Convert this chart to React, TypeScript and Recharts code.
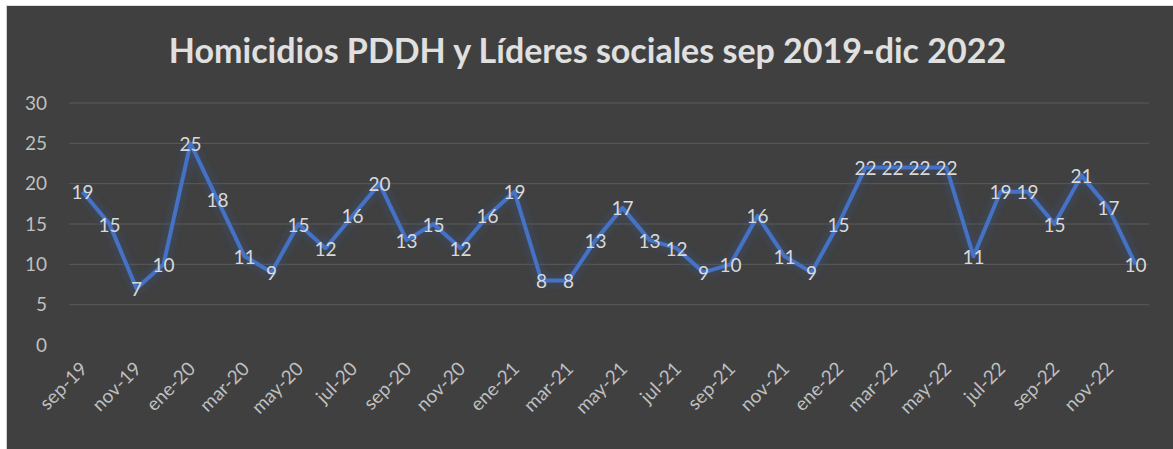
import React from 'react';
import { LineChart, Line, XAxis, YAxis, CartesianGrid, LabelList } from 'recharts';

const months = [
  'sep-19','oct-19','nov-19','dic-19','ene-20','feb-20','mar-20','abr-20','may-20','jun-20','jul-20','ago-20',
  'sep-20','oct-20','nov-20','dic-20','ene-21','feb-21','mar-21','abr-21','may-21','jun-21','jul-21','ago-21',
  'sep-21','oct-21','nov-21','dic-21','ene-22','feb-22','mar-22','abr-22','may-22','jun-22','jul-22','ago-22',
  'sep-22','oct-22','nov-22','dic-22',
];
const homicidios = [
  19, 15, 7, 10, 25, 18, 11, 9, 15, 12, 16, 20,
  13, 15, 12, 16, 19, 8, 8, 13, 17, 13, 12, 9,
  10, 16, 11, 9, 15, 22, 22, 22, 22, 11, 19, 19,
  15, 21, 17, 10,
];
const yTicks = [0, 5, 10, 15, 20, 25, 30];
const gridValues = [5, 10, 15, 20, 25, 30];
const title = 'Homicidios PDDH y Líderes sociales sep 2019-dic 2022';

const data = months.map((m, i) => ({ month: m, value: homicidios[i] }));

const FONT = 'Lato, "Open Sans", sans-serif';

const XTick = (props: any) => {
  const { x, y, payload } = props;
  return (
    <text
      transform={`translate(${x + 6},${y + 17}) rotate(-45)`}
      textAnchor="end"
      fill="#bfbfbf"
      fontSize={19}
      fontFamily={FONT}
    >
      {payload.value}
    </text>
  );
};

const DataLabel = (props: any) => {
  const { x, y, value } = props;
  return (
    <text
      x={x}
      y={y}
      textAnchor="middle"
      dominantBaseline="central"
      fill="#d9d9d9"
      fontSize={19}
      fontFamily={FONT}
    >
      {value}
    </text>
  );
};

export default function App() {
  return (
    <div style={{ position: 'relative', width: 1173, height: 449, background: '#ffffff', overflow: 'hidden' }}>
      <style>{'body{margin:0;}'}</style>
      <div
        style={{
          position: 'absolute',
          left: 6,
          top: 5,
          width: 1167,
          height: 444,
          background: '#404040',
          borderLeft: '1px solid #d0d0d0',
          borderTop: '1px solid #e0e0e0',
          boxSizing: 'border-box',
        }}
      >
        <div
          style={{
            position: 'absolute',
            left: 0,
            top: 24,
            width: 1173 - 12,
            textAlign: 'center',
            color: '#e0e0e0',
            fontFamily: FONT,
            fontWeight: 700,
            fontSize: 34,
            lineHeight: '40px',
          }}
        >
          {title}
        </div>
        <div style={{ position: 'absolute', left: -1, top: -1 }}>
          <LineChart
            width={1167}
            height={444}
            data={data}
            margin={{ top: 98, right: 24, bottom: 44, left: 23 }}
          >
            <defs>
              <filter id="glow" x="-5%" y="-20%" width="110%" height="140%">
                <feGaussianBlur in="SourceAlpha" stdDeviation="5" result="blur" />
                <feFlood floodColor="#35589c" floodOpacity="0.7" />
                <feComposite in2="blur" operator="in" result="glowColor" />
                <feMerge>
                  <feMergeNode in="glowColor" />
                  <feMergeNode in="SourceGraphic" />
                </feMerge>
              </filter>
            </defs>
            <CartesianGrid
              horizontal
              vertical={false}
              stroke="#5a5a5a"
              strokeWidth={1}
              horizontalValues={gridValues}
            />
            <XAxis
              dataKey="month"
              interval={1}
              tick={<XTick />}
              tickLine={false}
              axisLine={false}
              height={60}
              padding={{ left: 13.5, right: 13.5 }}
            />
            <YAxis
              domain={[0, 30]}
              ticks={yTicks}
              tickLine={false}
              axisLine={false}
              tickSize={0}
              tickMargin={22}
              width={40}
              tick={{ fill: '#bfbfbf', fontSize: 19, fontFamily: FONT }}
            />
            <Line
              type="linear"
              dataKey="value"
              stroke="#4472c4"
              strokeWidth={4}
              dot={false}
              activeDot={false}
              isAnimationActive={false}
              style={{ filter: 'url(#glow)' }}
              strokeLinejoin="round"
            >
              <LabelList dataKey="value" content={<DataLabel />} />
            </Line>
          </LineChart>
        </div>
      </div>
    </div>
  );
}
